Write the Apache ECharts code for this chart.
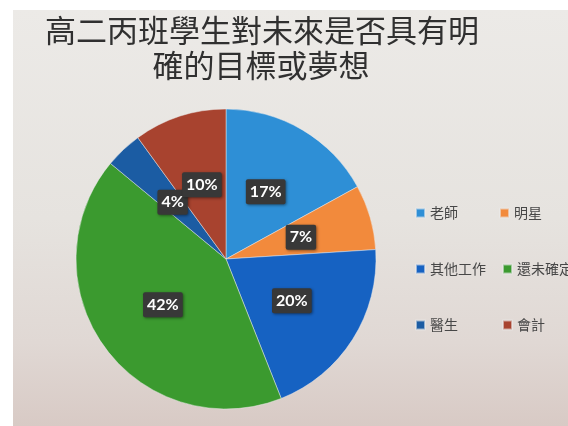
<!DOCTYPE html>
<html>
<head>
<meta charset="utf-8">
<script src="https://cdn.jsdelivr.net/npm/echarts@6/dist/echarts.min.js"></script>
<style>
html,body{margin:0;padding:0;background:#fff;}
#c{width:568px;height:426px;}
</style>
</head>
<body>
<div id="c"></div>
<script>
var titleLines = ['高二丙班學生對未來是否具有明', '確的目標或夢想'];
var categories = ['老師', '明星', '其他工作', '還未確定', '醫生', '會計'];
var values = [17, 7, 20, 42, 4, 10];
var colors = ['#2e8fd6', '#f28a3c', '#1662c2', '#3b9a2f', '#1b5ca3', '#a8432f'];

var chart = echarts.init(document.getElementById('c'), null, {renderer: 'canvas'});

var legendPos = [
  {left: 415, top: 206},
  {left: 499, top: 206},
  {left: 415, top: 262},
  {left: 502, top: 262},
  {left: 415, top: 318},
  {left: 502, top: 318}
];
var legends = categories.map(function (name, i) {
  return {
    data: [name],
    left: legendPos[i].left,
    top: legendPos[i].top,
    padding: 0,
    itemWidth: 9,
    itemHeight: 9,
    icon: 'rect',
    selectedMode: false,
    textStyle: {fontSize: 14, color: '#474747', fontFamily: 'Noto Sans CJK TC'}
  };
});

chart.setOption({
  backgroundColor: '#ffffff',
  color: colors,
  graphic: [
    {
      type: 'rect', z: -10, silent: true,
      shape: {x: 13, y: 10, width: 555, height: 416},
      style: {
        fill: new echarts.graphic.LinearGradient(0, 0, 0, 1, [
          {offset: 0, color: '#eceae7'},
          {offset: 0.5, color: '#e6e3df'},
          {offset: 0.8, color: '#e0d8d4'},
          {offset: 1, color: '#d8cac5'}
        ])
      }
    },
    {
      type: 'text', silent: true,
      style: {
        text: titleLines[0], x: 262, y: 30, align: 'center', verticalAlign: 'middle',
        fontSize: 31, fontFamily: 'Noto Sans CJK TC', fill: '#303030'
      }
    },
    {
      type: 'text', silent: true,
      style: {
        text: titleLines[1], x: 261, y: 65, align: 'center', verticalAlign: 'middle',
        fontSize: 31, fontFamily: 'Noto Sans CJK TC', fill: '#303030'
      }
    }
  ],
  legend: legends,
  series: [{
    type: 'pie',
    center: [226, 259],
    radius: [0, 150],
    startAngle: 90,
    clockwise: true,
    animation: false,
    itemStyle: {borderColor: 'rgba(235,235,235,0.6)', borderWidth: 0.8},
    labelLayout: {hideOverlap: false},
    label: {
      show: true,
      position: 'inside',
      formatter: '{c}%',
      color: '#ffffff',
      fontWeight: 'bold',
      fontSize: 16,
      fontFamily: 'Lato',
      backgroundColor: '#383838',
      borderRadius: 2,
      padding: [5, 4, 4, 4],
      shadowColor: 'rgba(0,0,0,0.45)',
      shadowBlur: 3,
      shadowOffsetX: 1,
      shadowOffsetY: 1
    },
    labelLine: {show: false},
    emphasis: {disabled: true},
    data: categories.map(function (n, i) { return {name: n, value: values[i]}; })
  }]
});
</script>
</body>
</html>
